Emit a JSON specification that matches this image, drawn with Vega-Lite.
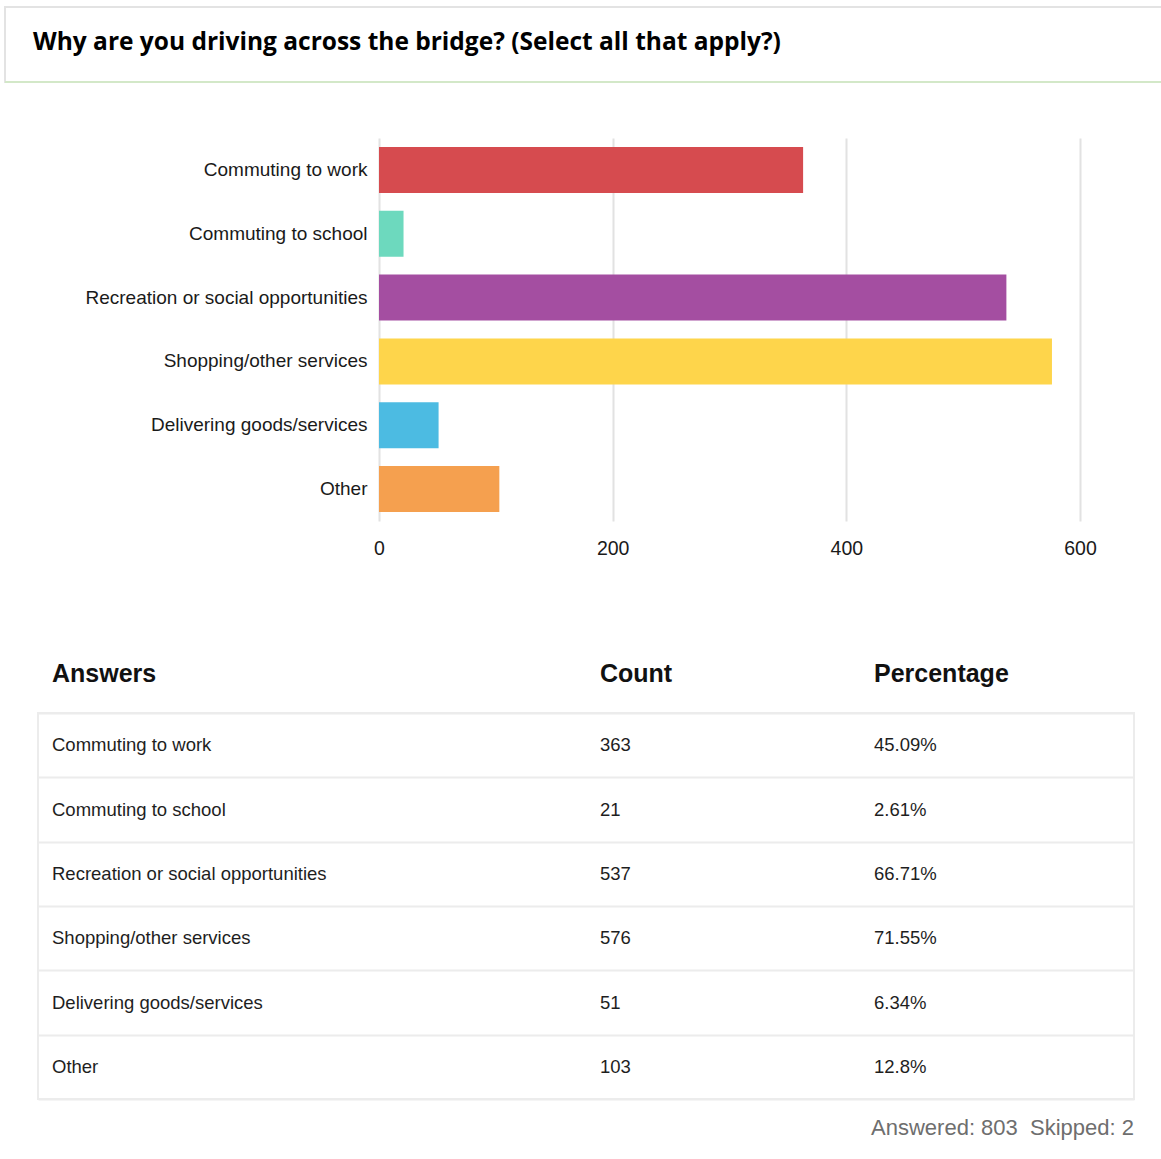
{
  "$schema": "https://vega.github.io/schema/vega-lite/v6.json",
  "padding": {"left": 3, "top": 6, "right": 0, "bottom": 0},
  "background": "white",
  "bounds": "flush",
  "center": true,
  "spacing": 56,
  "config": {"view": {"stroke": null}, "font": "Liberation Sans"},
  "datasets": {
    "answers": [
      {"answer": "Commuting to work", "count": 363, "share": 0.4509},
      {"answer": "Commuting to school", "count": 21, "share": 0.0261},
      {"answer": "Recreation or social opportunities", "count": 537, "share": 0.6671},
      {"answer": "Shopping/other services", "count": 576, "share": 0.7155},
      {"answer": "Delivering goods/services", "count": 51, "share": 0.0634},
      {"answer": "Other", "count": 103, "share": 0.128}
    ]
  },
  "vconcat": [
    {
      "width": 1162,
      "height": 75,
      "view": {"stroke": "#e3e3e3", "strokeWidth": 2},
      "title": {
        "text": "Why are you driving across the bridge? (Select all that apply?)",
        "anchor": "start",
        "orient": "top",
        "frame": "group",
        "offset": -48,
        "dx": 28,
        "font": "Open Sans",
        "fontSize": 24.5,
        "fontWeight": "bold",
        "color": "#000000"
      },
      "data": {"values": [{"part": "header"}]},
      "mark": {"type": "rule", "color": "#d3e8c8", "strokeWidth": 2},
      "encoding": {
        "y": {"datum": 0, "type": "quantitative", "scale": {"domain": [0, 1]}, "axis": null}
      }
    },
    {
      "width": 1162,
      "height": 383,
      "data": {"name": "answers"},
      "mark": {"type": "bar"},
      "encoding": {
        "y": {
          "field": "answer",
          "type": "nominal",
          "sort": null,
          "scale": {"paddingInner": 0.28, "paddingOuter": 0.14},
          "axis": {
            "title": null,
            "orient": "left",
            "offset": -362,
            "labelPadding": 0,
            "ticks": false,
            "tickSize": 0,
            "domain": false,
            "grid": false,
            "labelFont": "Liberation Sans",
            "labelFontSize": 19,
            "labelColor": "#1a1a1a",
            "labelLimit": 400
          }
        },
        "x": {
          "field": "count",
          "type": "quantitative",
          "scale": {"domain": [0, 600], "range": [374, 1075], "nice": false},
          "axis": {
            "title": null,
            "values": [0, 200, 400, 600],
            "grid": true,
            "gridColor": "#e2e2e2",
            "gridWidth": 2,
            "domain": false,
            "ticks": false,
            "tickSize": 0,
            "labelFlush": false,
            "labelPadding": 18,
            "labelFont": "Liberation Sans",
            "labelFontSize": 19.5,
            "labelColor": "#1a1a1a"
          }
        },
        "color": {
          "field": "answer",
          "type": "nominal",
          "scale": {
            "domain": ["Commuting to work", "Commuting to school", "Recreation or social opportunities", "Shopping/other services", "Delivering goods/services", "Other"],
            "range": ["#d64b4f", "#6dd9be", "#a44ea1", "#fed54b", "#4cbbe2", "#f5a04f"]
          },
          "legend": null
        }
      }
    },
    {
      "width": 1162,
      "height": 80,
      "data": {"values": []},
      "mark": "point",
      "encoding": {}
    },
    {
      "width": 1096,
      "height": 386,
      "view": {"stroke": "#ececec", "strokeWidth": 2},
      "data": {"name": "answers"},
      "title": {
        "text": "Answered: 803\u00a0 Skipped: 2",
        "orient": "bottom",
        "anchor": "end",
        "frame": "group",
        "offset": 19,
        "font": "Liberation Sans",
        "fontSize": 22,
        "fontWeight": "normal",
        "color": "#6e6e6e"
      },
      "encoding": {
        "y": {
          "field": "answer",
          "type": "nominal",
          "sort": null,
          "scale": {"paddingInner": 0, "paddingOuter": 0},
          "axis": {
            "title": null,
            "labels": false,
            "ticks": false,
            "domain": false,
            "grid": true,
            "gridColor": "#ececec",
            "gridWidth": 2,
            "tickBand": "extent"
          }
        }
      },
      "layer": [
        {
          "mark": {"type": "text", "align": "left", "baseline": "middle", "dx": 14, "fontSize": 18.5, "color": "#1e1e1e"},
          "encoding": {
            "x": {
              "datum": "Answers",
              "type": "nominal",
              "bandPosition": 0,
              "scale": {"type": "band", "domain": ["Answers", "between", "Count", "Percentage"], "paddingInner": 0, "paddingOuter": 0},
              "axis": {
                "orient": "top",
                "title": null,
                "values": ["Answers", "Count", "Percentage"],
                "labelAlign": "left",
                "labelOffset": -123,
                "labelBaseline": "alphabetic",
                "labelPadding": 32,
                "labelAngle": 0,
                "ticks": false,
                "tickSize": 0,
                "domain": false,
                "grid": false,
                "labelFontSize": 25,
                "labelFontWeight": "bold",
                "labelColor": "#111111"
              }
            },
            "text": {"field": "answer", "type": "nominal"}
          }
        },
        {
          "mark": {"type": "text", "align": "left", "baseline": "middle", "dx": 14, "fontSize": 18.5, "color": "#1e1e1e"},
          "encoding": {
            "x": {"datum": "Count", "type": "nominal", "bandPosition": 0},
            "text": {"field": "count", "type": "quantitative"}
          }
        },
        {
          "mark": {"type": "text", "align": "left", "baseline": "middle", "dx": 14, "fontSize": 18.5, "color": "#1e1e1e"},
          "encoding": {
            "x": {"datum": "Percentage", "type": "nominal", "bandPosition": 0},
            "text": {"field": "share", "type": "quantitative", "format": ".2~%"}
          }
        }
      ]
    }
  ]
}
